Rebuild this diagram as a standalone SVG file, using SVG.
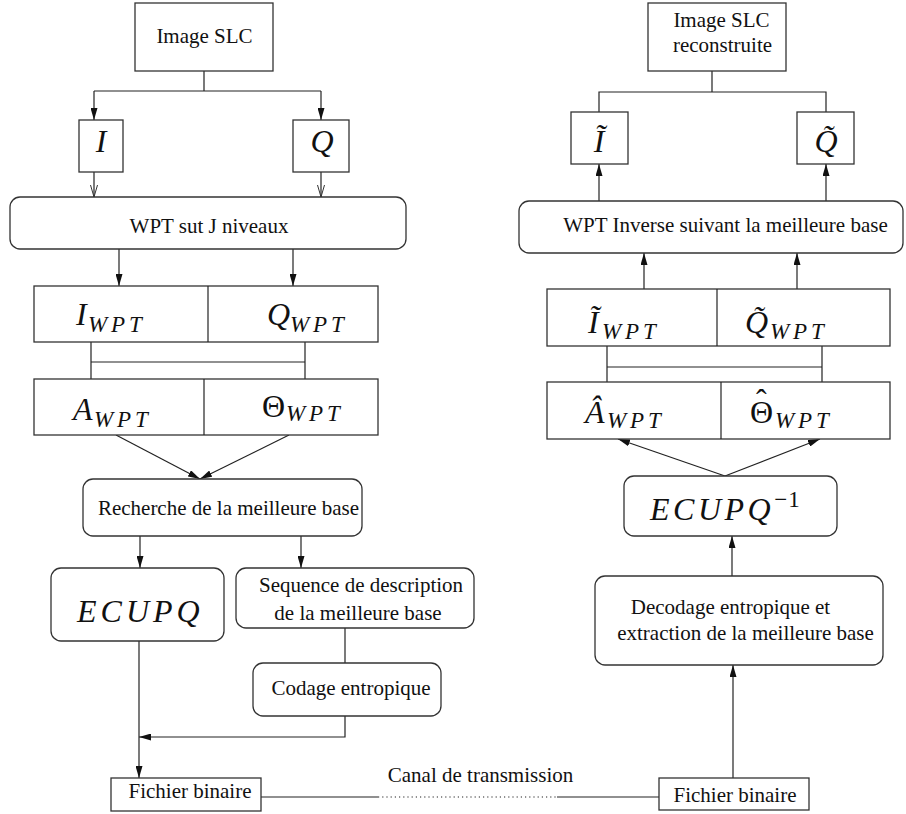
<svg xmlns="http://www.w3.org/2000/svg" width="906" height="814" viewBox="0 0 906 814">
<style>
.box{fill:#fff;stroke:#333;stroke-width:1.3}
.t{font-family:"Liberation Serif","Times New Roman",serif;font-size:21px;fill:#111;text-anchor:middle}
.m{font-family:"Liberation Serif","Times New Roman",serif;font-style:italic;font-size:32px;fill:#111}
.up{font-style:normal}
.sub{font-size:23px}
.c{fill:none;stroke:#222;stroke-width:1.2}
.dot{stroke-dasharray:1.2 3}
.a{marker-end:url(#ah)}
.v{marker-end:url(#av)}
</style>
<defs>
<marker id="ah" markerWidth="12" markerHeight="7" refX="12" refY="3.5" orient="auto" markerUnits="userSpaceOnUse"><path d="M0,0 L12,3.5 L0,7 z" fill="#111"/></marker>
<marker id="av" markerWidth="12" markerHeight="8" refX="12" refY="4" orient="auto" markerUnits="userSpaceOnUse"><path d="M0,0.5 L12,4 L0,7.5" fill="none" stroke="#333" stroke-width="1"/></marker>
</defs>
<rect width="906" height="814" fill="#fff"/>

<g id="connectors">
<path class="c" d="M204,71 V91 M94,91 H321"/>
<path class="c a" d="M94,91 V120"/>
<path class="c a" d="M321,91 V120"/>
<path class="c v" d="M94,172 V197"/>
<path class="c v" d="M321,172 V197"/>
<path class="c a" d="M119,249 V286"/>
<path class="c a" d="M293,249 V286"/>
<path class="c" d="M91,342 V379 M305,342 V379 M91,362 H305"/>
<path class="c a" d="M116,435 L200,479"/>
<path class="c a" d="M289,435 L200,479"/>
<path class="c a" d="M140,536 V568"/>
<path class="c a" d="M301,536 V568"/>
<path class="c" d="M345,628 V663"/>
<path class="c a" d="M345,716 V737 H139"/>
<path class="c a" d="M139,641 V778"/>
<path class="c" d="M261,797 H378"/>
<path class="c dot" d="M378,797 H557"/>
<path class="c" d="M557,797 H659"/>
<path class="c a" d="M733,778 V665"/>
<path class="c a" d="M732,576 V536"/>
<path class="c a" d="M725,476 L618,439"/>
<path class="c a" d="M725,476 L820,439"/>
<path class="c" d="M607,346 V382 M822,346 V382 M607,367 H822"/>
<path class="c a" d="M644,289 V253"/>
<path class="c a" d="M797,289 V253"/>
<path class="c a" d="M599,201 V164"/>
<path class="c a" d="M826,201 V164"/>
<path class="c" d="M599,112 V92 H826 V112 M712,71 V92"/>
</g>

<g id="image-slc">
<rect class="box" x="135" y="3" width="138" height="68"/>
<text class="t" x="204.5" y="43">Image SLC</text>
</g>
<g id="I">
<rect class="box" x="79" y="120" width="44" height="52"/>
<text class="m" x="101" y="152" text-anchor="middle">I</text>
</g>
<g id="Q">
<rect class="box" x="293" y="120" width="56" height="52"/>
<text class="m" x="322" y="152" text-anchor="middle">Q</text>
</g>
<g id="wpt">
<rect class="box" x="10" y="197" width="396" height="52" rx="10"/>
<text class="t" x="209" y="233">WPT sut J niveaux</text>
</g>
<g id="iq-wpt">
<rect class="box" x="34" y="286" width="344" height="56"/>
<path class="c" d="M208,286 V342"/>
<text class="m" x="76" y="325">I<tspan class="sub" x="88 111 129" y="332">WPT</tspan></text>
<text class="m" x="267" y="325">Q<tspan class="sub" x="290 313 331" y="332">WPT</tspan></text>
</g>
<g id="atheta-wpt">
<rect class="box" x="34" y="379" width="344" height="56"/>
<path class="c" d="M204,379 V435"/>
<text class="m" x="73" y="420">A<tspan class="sub" x="94 117 135" y="427">WPT</tspan></text>
<text class="m" x="262" y="417"><tspan class="up">Θ</tspan><tspan class="sub" x="286 309 327" y="421">WPT</tspan></text>
</g>
<g id="recherche">
<rect class="box" x="83" y="479" width="279" height="57" rx="10"/>
<text class="t" x="228.5" y="515">Recherche de la meilleure base</text>
</g>
<g id="ecupq">
<rect class="box" x="51" y="568" width="173" height="73" rx="10"/>
<text class="m" x="77" y="622" letter-spacing="4">ECUPQ</text>
</g>
<g id="sequence">
<rect class="box" x="236" y="568" width="238" height="60" rx="10"/>
<text class="t" x="361" y="592">Sequence de description</text>
<text class="t" x="358" y="620">de la meilleure base</text>
</g>
<g id="codage">
<rect class="box" x="253" y="663" width="188" height="53" rx="10"/>
<text class="t" x="351" y="695">Codage entropique</text>
</g>
<g id="fichier-left">
<rect class="box" x="111" y="778" width="150" height="33"/>
<text class="t" x="190" y="798">Fichier binaire</text>
</g>
<g id="canal">
<text class="t" x="480.5" y="782">Canal de transmission</text>
</g>
<g id="fichier-right">
<rect class="box" x="659" y="778" width="150" height="32"/>
<text class="t" x="735" y="802">Fichier binaire</text>
</g>
<g id="decodage">
<rect class="box" x="595" y="576" width="288" height="89" rx="10"/>
<text class="t" x="730.5" y="614">Decodage entropique et</text>
<text class="t" x="745.5" y="640">extraction de la meilleure base</text>
</g>
<g id="ecupq-inv">
<rect class="box" x="624" y="476" width="213" height="60" rx="10"/>
<text class="m" x="650" y="520" letter-spacing="3.5">ECUPQ<tspan class="sub up" y="507" letter-spacing="1">−1</tspan></text>
</g>
<g id="ahat-thetahat">
<rect class="box" x="547" y="382" width="343" height="57"/>
<path class="c" d="M721,382 V439"/>
<text class="m" x="585" y="423">Â<tspan class="sub" x="607 630 648" y="428">WPT</tspan></text>
<text class="m" x="750" y="423"><tspan class="up">Θ</tspan><tspan class="up" x="756" y="411">ˆ</tspan><tspan class="sub" x="775 798 816" y="428">WPT</tspan></text>
</g>
<g id="itilde-qtilde-wpt">
<rect class="box" x="547" y="289" width="343" height="57"/>
<path class="c" d="M717,289 V346"/>
<text class="m" x="588" y="333">Ĩ<tspan class="sub" x="602 625 643" y="339">WPT</tspan></text>
<text class="m" x="745" y="333">Q̃<tspan class="sub" x="770 793 811" y="339">WPT</tspan></text>
</g>
<g id="wpt-inverse">
<rect class="box" x="519" y="201" width="384" height="52" rx="10"/>
<text class="t" x="725.5" y="232">WPT Inverse suivant la meilleure base</text>
</g>
<g id="itilde">
<rect class="box" x="571" y="112" width="57" height="52"/>
<text class="m" x="599" y="152" text-anchor="middle">Ĩ</text>
</g>
<g id="qtilde">
<rect class="box" x="797" y="112" width="57" height="52"/>
<text class="m" x="826" y="152" text-anchor="middle">Q̃</text>
</g>
<g id="image-slc-rec">
<rect class="box" x="648" y="3" width="138" height="68"/>
<text class="t" x="721.5" y="27">Image SLC</text>
<text class="t" x="722.5" y="52">reconstruite</text>
</g>
</svg>
